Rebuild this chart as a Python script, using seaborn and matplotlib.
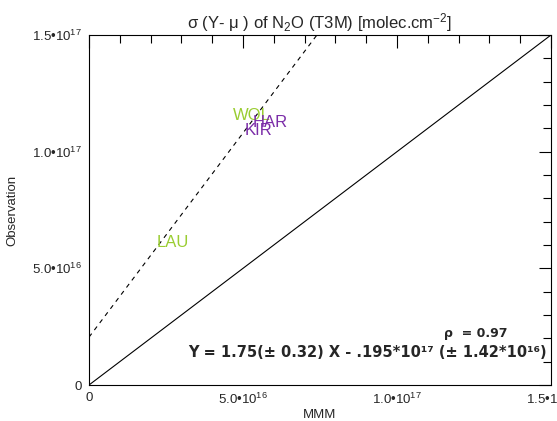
import matplotlib
matplotlib.use("Agg")
import matplotlib.pyplot as plt
import seaborn as sns
import pandas as pd
import numpy as np
from matplotlib.ticker import MultipleLocator, FixedLocator, FixedFormatter

# Station labels placed at (MMM, Observation)
stations = ["WOL", "HAR", "KIR", "LAU"]
mmm_vals = [4.68e16, 5.32e16, 5.06e16, 2.21e16]
obs_vals = [1.136e17, 1.106e17, 1.071e17, 5.91e16]
station_colors = ["#9acd32", "#7b2da8", "#7b2da8", "#9acd32"]

# Regression line (dashed) and 1:1 line
fit_slope = 1.75
fit_intercept = 2.05e16
axis_max = 1.5e17

tick_values = [0, 5.0e16, 1.0e17, 1.5e17]
tick_labels = ["0", "5.0\u202210$^{16}$", "1.0\u202210$^{17}$", "1.5\u202210$^{17}$"]

sns.set_style("white")
plt.rcParams["font.family"] = ["Liberation Sans", "DejaVu Sans"]
plt.rcParams["mathtext.fontset"] = "custom"
plt.rcParams["mathtext.rm"] = "Liberation Sans"
plt.rcParams["mathtext.bf"] = "Liberation Sans:bold"
plt.rcParams["mathtext.default"] = "regular"

fig = plt.figure(figsize=(5.57, 4.21), dpi=100)
ax = fig.add_axes([89 / 557, 1 - 385 / 421, 462 / 557, 350 / 421])

xs = np.array([0.0, axis_max])
lines = pd.DataFrame({
    "x": np.concatenate([xs, xs]),
    "y": np.concatenate([xs, fit_slope * xs + fit_intercept]),
    "kind": ["one"] * 2 + ["fit"] * 2,
})
sns.lineplot(data=lines[lines.kind == "one"], x="x", y="y", color="black",
             linewidth=0.8, ax=ax, legend=False)
sns.lineplot(data=lines[lines.kind == "fit"], x="x", y="y", color="black",
             linewidth=0.8, linestyle=(0, (4, 4)), ax=ax, legend=False)

for name, xv, yv, c in zip(stations, mmm_vals, obs_vals, station_colors):
    ax.text(xv, yv, name, color=c, fontsize=12, ha="left", va="baseline")

ax.set_xlim(0, axis_max)
ax.set_ylim(0, axis_max)
for axis in (ax.xaxis, ax.yaxis):
    axis.set_major_locator(FixedLocator(tick_values))
    axis.set_major_formatter(FixedFormatter(tick_labels))
    axis.set_minor_locator(MultipleLocator(1.0e16))
ax.tick_params(which="both", direction="in", top=True, right=True,
               color="black", width=0.8, labelsize=9.5, pad=5)
ax.tick_params(which="major", length=9)
ax.tick_params(which="minor", length=6)
for s in ax.spines.values():
    s.set_color("black")
    s.set_linewidth(0.8)

ax.set_xlabel("MMM", fontsize=9.5, labelpad=1)
ax.set_ylabel("Observation", fontsize=9.5, labelpad=10)
ax.set_title("\u03c3 (Y- \u03bc ) of N$_2$O (T3M) [molec.cm$^{-2}$]",
             fontsize=12, pad=5)

ax.text(0.905, 0.137, "\u03c1  = 0.97", transform=ax.transAxes, ha="right",
        va="baseline", fontsize=9, fontweight="bold",
        family=["DejaVu Sans"])
ax.text(0.99, 0.08,
        "Y = 1.75(\u00b1 0.32) X - .195*10\u00b9\u2077 (\u00b1 1.42*10\u00b9\u2076)",
        transform=ax.transAxes, ha="right", va="baseline", fontsize=10.5,
        fontweight="bold", family=["DejaVu Sans"])

fig.savefig("out.png", dpi=100)
